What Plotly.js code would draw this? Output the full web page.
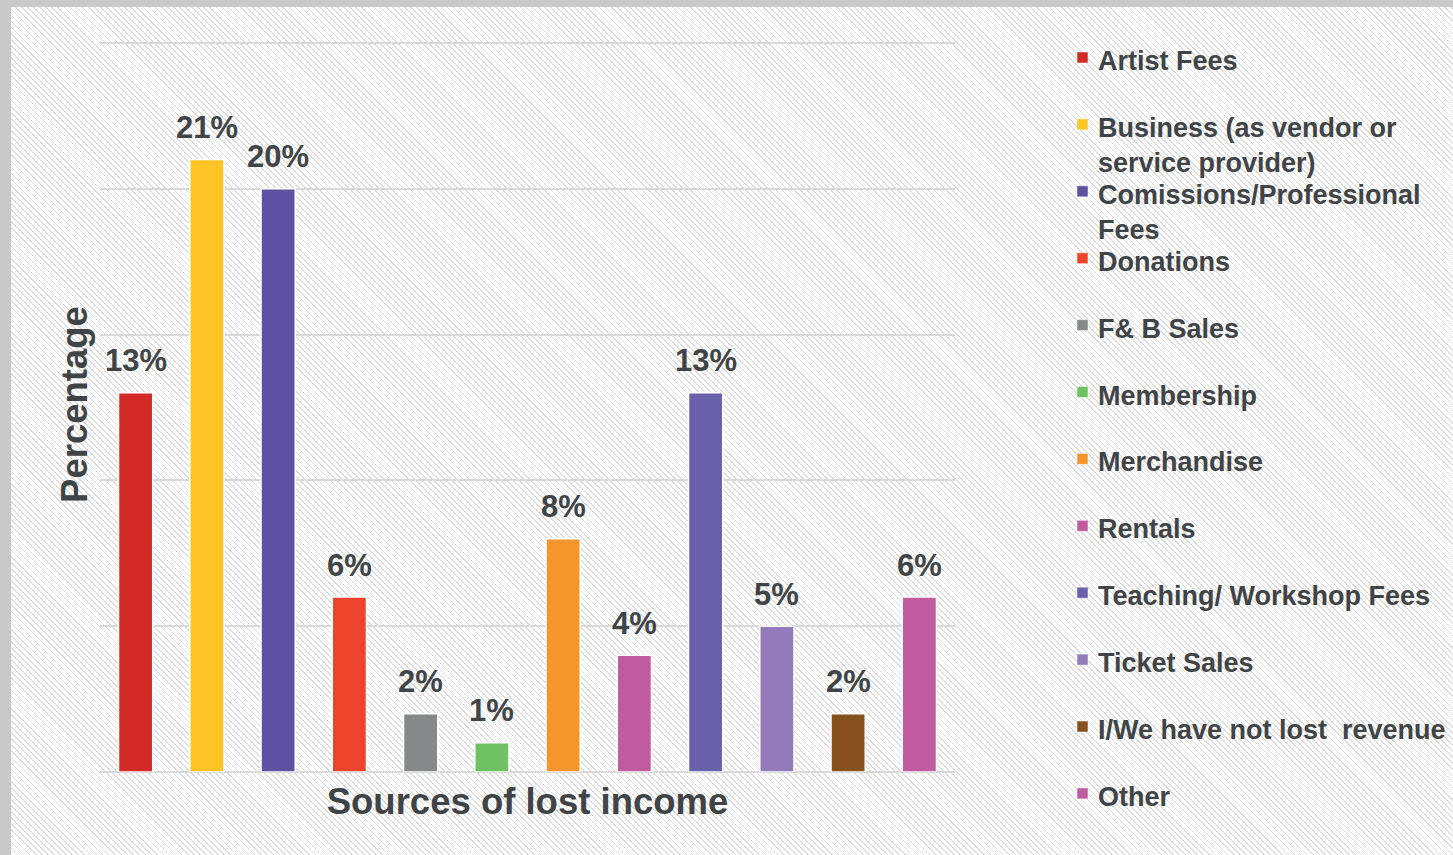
<!DOCTYPE html>
<html>
<head>
<meta charset="utf-8">
<script src="https://cdn.plot.ly/plotly-3.0.1.min.js"></script>
<style>
  html, body { margin: 0; padding: 0; }
  #frame {
    position: absolute; left: 0; top: 0; width: 1453px; height: 855px;
    box-sizing: border-box;
    border-top: 7px solid #c8c9c8; border-left: 11px solid #c8c9c8;
    background: repeating-linear-gradient(45deg, #dfdfdf 0px, #dfdfdf 1.2px, #ffffff 1.2px, #ffffff 4.3px);
  }
  #chart { position: absolute; left: 0; top: 0; width: 1453px; height: 855px; }
</style>
</head>
<body>
<div id="frame"></div>
<div id="chart"></div>
<script>
// ---- data ----
const categories = [
  "Artist Fees",
  "Business (as vendor or<br>service provider)",
  "Comissions/Professional<br>Fees",
  "Donations",
  "F& B Sales",
  "Membership",
  "Merchandise",
  "Rentals",
  "Teaching/ Workshop Fees",
  "Ticket Sales",
  "I/We have not lost  revenue",
  "Other"
];
const values = [13, 21, 20, 6, 2, 1, 8, 4, 13, 5, 2, 6];
const colors = ["#d32a28", "#fdc425", "#5f51a1", "#ee432b", "#878889", "#6fc263",
                "#f6952c", "#c15b9f", "#6a61ac", "#937bbb", "#87501f", "#c15b9f"];
const xTitle = "Sources of lost income";
const yTitle = "Percentage";

// ---- layout constants ----
const W = 1453, H = 855;
const L = 100, R = 955, T = 37, B = 772;
const txt = "#404447";
const FONT = "Liberation Sans, Arial, sans-serif";
const px2x = p => (p - L) / (R - L);
const px2y = p => (B - p) / (B - T);

const traces = categories.map((c, i) => ({
  type: "bar",
  x: [c],
  y: [values[i]],
  name: c,
  marker: { color: colors[i], line: { color: "#ffffff", width: 1.5 } },
  showlegend: false,
  hoverinfo: "x+y"
}));

const annotations = [];
const shapes = [];

// value labels above bars (positioned through the axes)
categories.forEach((c, i) => {
  annotations.push({
    xref: "x", yref: "y", x: c, y: values[i],
    text: values[i] + "%", showarrow: false,
    xanchor: "center", yanchor: "middle", yshift: 32,
    font: { family: FONT, size: 31, color: txt, weight: "bold" }
  });
});

// custom legend (annotations + squares) matching reference spacing
const LEG_TOP = 61, LEG_STEP = 66.9, LINE_H = 35;
categories.forEach((c, i) => {
  const cy = LEG_TOP + i * LEG_STEP;
  const nLines = c.split("<br>").length;
  annotations.push({
    xref: "paper", yref: "paper",
    x: px2x(1096), y: px2y(cy + (nLines - 1) * LINE_H / 2),
    xanchor: "left", yanchor: "middle", align: "left",
    text: c, showarrow: false,
    font: { family: FONT, size: 27, color: txt, weight: "bold" }
  });
  shapes.push({
    type: "rect", xref: "paper", yref: "paper",
    x0: px2x(1077), x1: px2x(1088), y0: px2y(cy - 9), y1: px2y(cy + 2),
    fillcolor: colors[i], line: { color: "#ffffff", width: 0.5 }
  });
});

const layout = {
  width: W, height: H,
  margin: { l: L, r: W - R, t: T, b: H - B },
  paper_bgcolor: "rgba(0,0,0,0)",
  plot_bgcolor: "rgba(0,0,0,0)",
  barmode: "overlay",
  bargap: 0.52,
  showlegend: false,
  font: { family: FONT, color: txt },
  xaxis: {
    type: "category",
    showticklabels: false, ticks: "", showgrid: false, zeroline: false, showline: false,
    title: { text: xTitle, font: { family: FONT, size: 36.5, color: txt, weight: "bold" }, standoff: 16 }
  },
  yaxis: {
    range: [0, 25.2], dtick: 5, tick0: 0,
    showticklabels: false, ticks: "",
    showgrid: true, gridcolor: "#d9d9d9", gridwidth: 1.5,
    zeroline: true, zerolinecolor: "#d9d9d9", zerolinewidth: 1.5,
    showline: false,
    title: { text: yTitle, font: { family: FONT, size: 36.5, color: txt, weight: "bold" }, standoff: 0 }
  },
  annotations: annotations,
  shapes: shapes
};

Plotly.newPlot("chart", traces, layout, { displayModeBar: false });
</script>
</body>
</html>
